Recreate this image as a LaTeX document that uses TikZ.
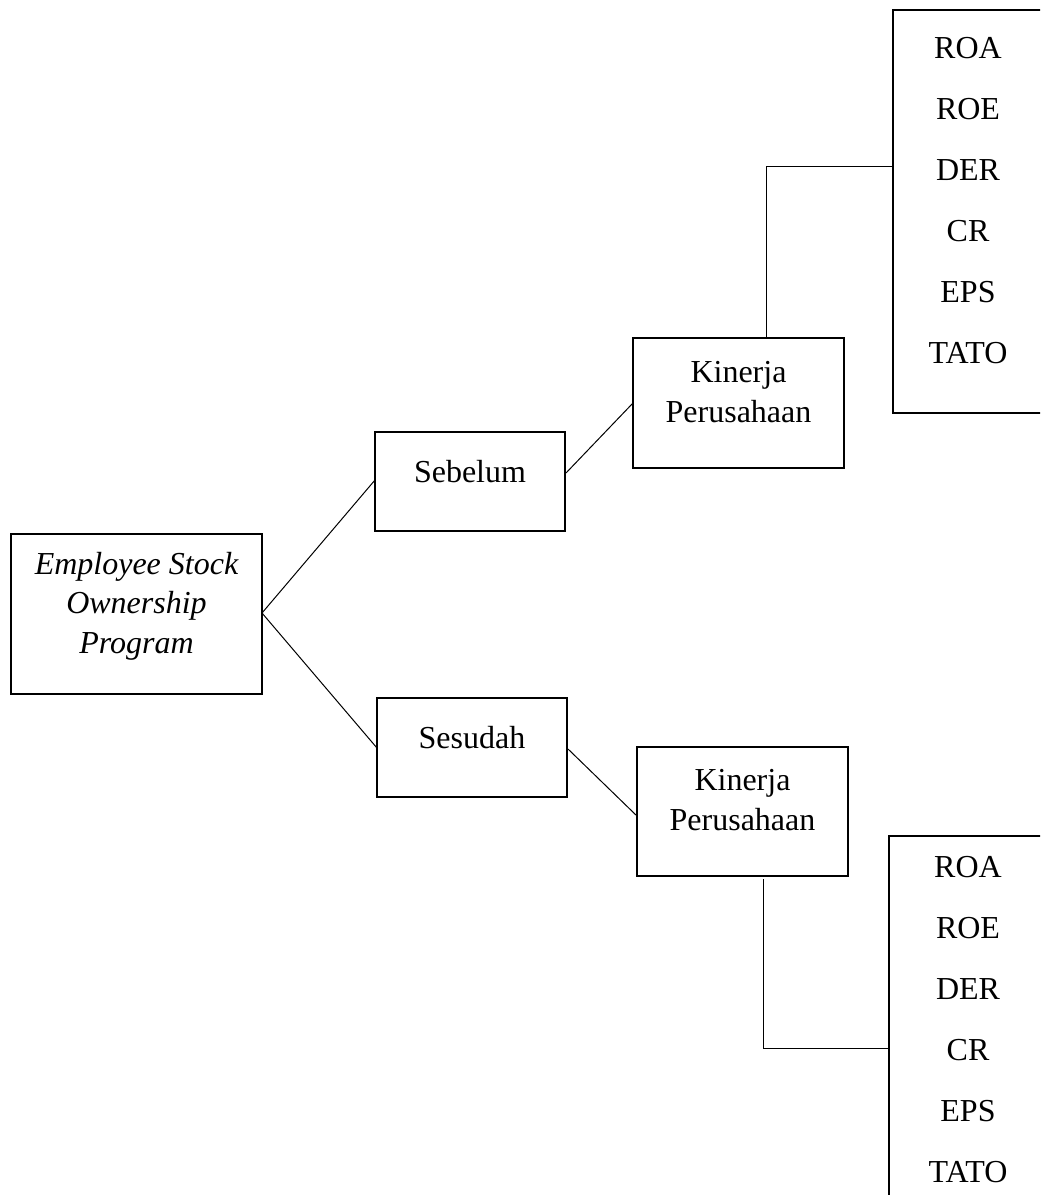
\documentclass[tikz,border=0pt]{standalone}
\usepackage{fontspec}
\setmainfont{Liberation Serif}
\begin{document}
\begin{tikzpicture}[x=0.75pt,y=-0.75pt,
  box/.style={draw=black,line width=1.6pt,inner sep=0pt},
  txt/.style={font=\fontsize{24}{29.5}\selectfont,align=center,inner sep=0pt},
  conn/.style={draw=black,line width=0.75pt}]
\useasboundingbox (0,0) rectangle (1040,1195);
\begin{scope}
\clip (0,0) rectangle (1040,1195);
% boxes
\node[box,minimum width=251*0.75pt,minimum height=160*0.75pt] (esop) at (136.5,614) {};
\node[box,minimum width=190*0.75pt,minimum height=99*0.75pt] (seb) at (470,481.5) {};
\node[box,minimum width=190*0.75pt,minimum height=99*0.75pt] (ses) at (472,747.5) {};
\node[box,minimum width=211*0.75pt,minimum height=130*0.75pt] (k1) at (738.5,403) {};
\node[box,minimum width=211*0.75pt,minimum height=129*0.75pt] (k2) at (742.5,811.5) {};
\node[box,minimum width=170*0.75pt,minimum height=403*0.75pt] (l1) at (978,211.5) {};
\node[box,minimum width=170*0.75pt,minimum height=400*0.75pt] (l2) at (974,1036) {};
\end{scope}
% texts
\node[txt,font=\fontsize{24}{29.5}\selectfont\itshape,anchor=base] (esopt) at (136.5,653) {Employee Stock\\Ownership\\Program};
\node[txt,anchor=base] (sebt) at (470,482) {Sebelum};
\node[txt,anchor=base] (sest) at (472,748) {Sesudah};
\node[txt,anchor=base] (k1t) at (738.5,422) {Kinerja\\Perusahaan};
\node[txt,anchor=base] (k2t) at (742.5,830) {Kinerja\\Perusahaan};
\foreach \t [count=\i] in {ROA,ROE,DER,CR,EPS,TATO}{
  \node[txt] (a\i) at (968,48+61*\i-61) {\t};
  \node[txt] (b\i) at (968,867+61*\i-61) {\t};
}
% connectors
\coordinate (e0) at (262,613);
\draw[conn] (e0) -- (375,480);
\draw[conn] (e0) -- (377,748);
\draw[conn] (566,473) -- (633,403);
\draw[conn] (568,749) -- (637,816);
\draw[conn] (766,338) -- (766,167) -- (892,167);
\draw[conn] (763,879) -- (763,1048) -- (888,1048);
\end{tikzpicture}
\end{document}
